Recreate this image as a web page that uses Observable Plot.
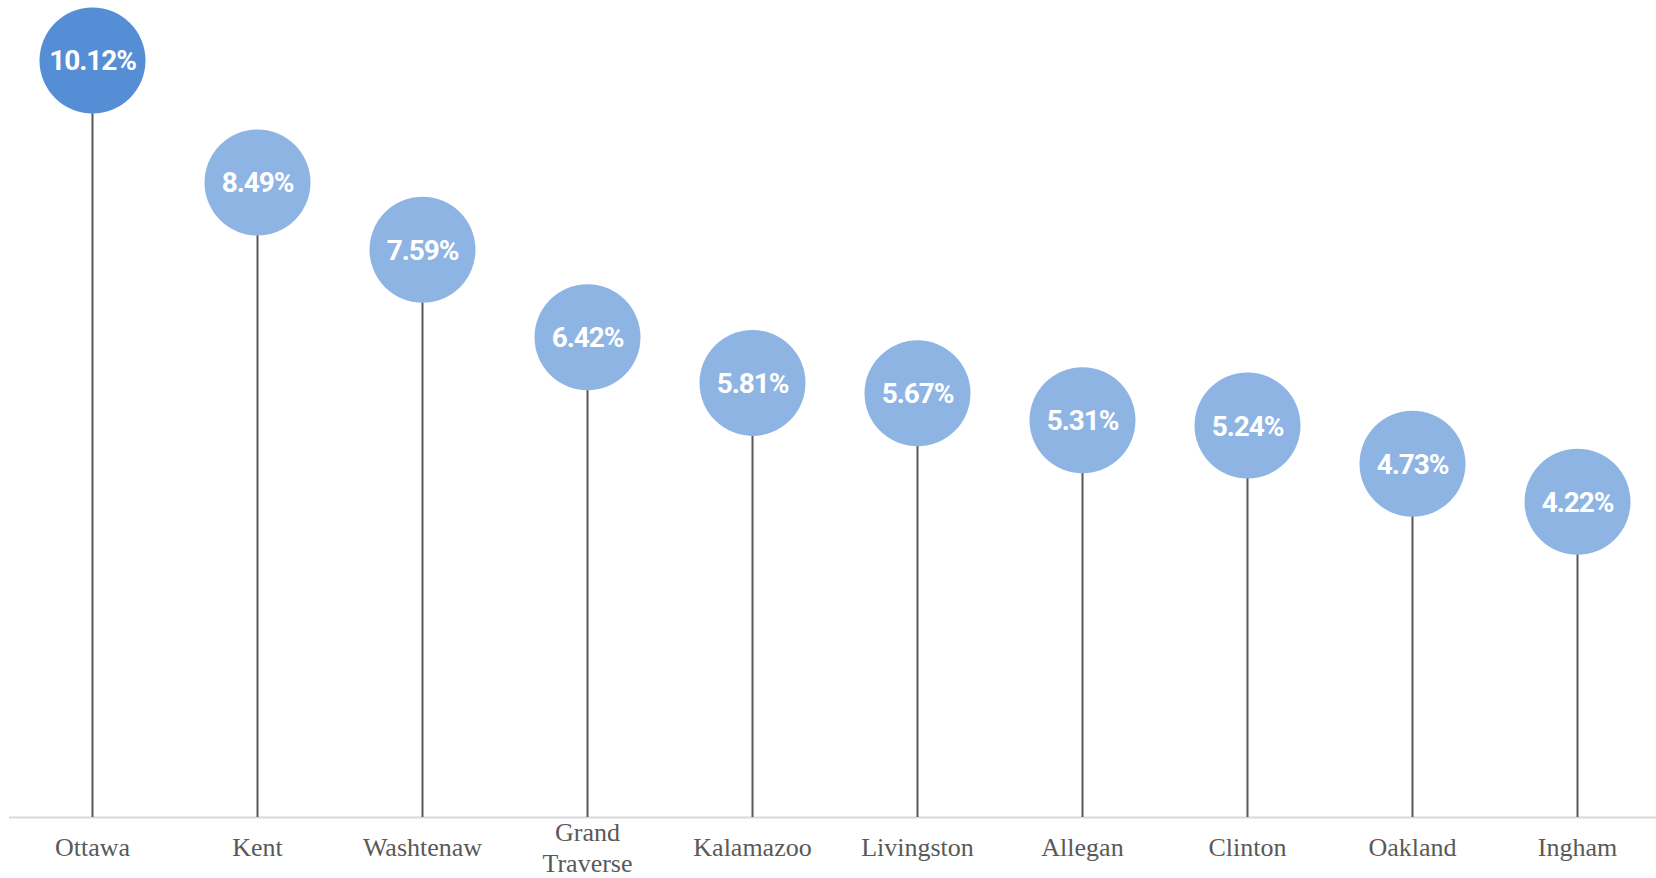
<!DOCTYPE html>
<html>
<head>
<meta charset="utf-8">
<script src="https://cdn.jsdelivr.net/npm/d3@7"></script>
<script src="https://cdn.jsdelivr.net/npm/@observablehq/plot@0.6"></script>
<style>
  html, body { margin: 0; padding: 0; background: #ffffff; }
  #chart { width: 1656px; height: 878px; overflow: hidden; }
  #chart svg g[font-weight="bold"] text { letter-spacing: -1.1px; }
</style>
</head>
<body>
<div id="chart"></div>
<script>
const counties = ["Ottawa", "Kent", "Washtenaw", "Grand Traverse", "Kalamazoo", "Livingston", "Allegan", "Clinton", "Oakland", "Ingham"];
const shares = [10.12, 8.49, 7.59, 6.42, 5.81, 5.67, 5.31, 5.24, 4.73, 4.22];
const highlighted = ["Ottawa"];

const data = counties.map((c, i) => ({county: c, value: shares[i], hi: highlighted.includes(c)}));

const plot = Plot.plot({
  width: 1656,
  height: 878,
  marginLeft: 9,
  marginRight: -4,
  marginTop: 60,
  marginBottom: 61,
  x: {type: "point", domain: counties, padding: 0.5, axis: null},
  y: {domain: [0, d3.max(shares)], axis: null},
  style: {background: "#ffffff", overflow: "visible"},
  marks: [
    Plot.ruleY([0], {stroke: "#d9d9d9", strokeWidth: 2}),
    Plot.ruleX(data, {x: "county", y1: 0, y2: "value", stroke: "#595959", strokeWidth: 2}),
    Plot.dot(data, {x: "county", y: "value", r: 53, fill: d => d.hi ? "#558ed5" : "#8eb4e3", stroke: "none"}),
    Plot.text(data, {
      x: "county", y: "value",
      text: d => d.value.toFixed(2) + "%",
      fill: "#ffffff",
      fontSize: 28,
      fontWeight: "bold",
      fontFamily: "'Liberation Sans Narrow', 'Roboto', sans-serif",
      lineAnchor: "middle",
      dy: 1
    }),
    Plot.text(data, {
      x: "county", y: () => 0,
      text: "county",
      lineWidth: 5,
      lineHeight: 1.2,
      lineAnchor: "middle",
      dy: 29,
      fill: "#595959",
      fontSize: 26,
      fontFamily: "'Liberation Serif', 'DejaVu Serif', serif"
    })
  ]
});
document.getElementById("chart").appendChild(plot);
</script>
</body>
</html>
